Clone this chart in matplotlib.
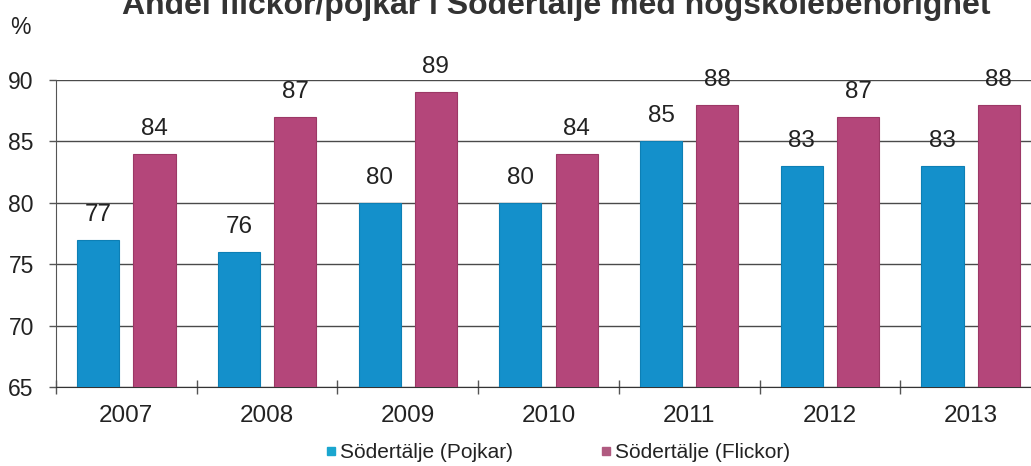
"""
Andel flickor/pojkar i Södertälje med högskolebehörighet
"""

import matplotlib.pyplot as plt
import numpy as np
from matplotlib.lines import Line2D

YEARS = ["2007", "2008", "2009", "2010", "2011", "2012", "2013"]
POJKAR = [77, 76, 80, 80, 85, 83, 83]
FLICKOR = [84, 87, 89, 84, 88, 87, 88]
Y_TICKS = [65, 70, 75, 80, 85, 90]

BLUE = "#1490cb"
PINK = "#b4467a"

plt.rcParams["font.family"] = ["Liberation Sans", "DejaVu Sans"]


def plot_bars() -> None:
    """
    Function to plot the grouped bar chart
    """

    fig = plt.figure(figsize=(10.31, 4.66), dpi=100)
    ax = fig.add_axes([56 / 1031, 1 - 387 / 466, 985 / 1031, 307 / 466])

    x = np.arange(len(YEARS))
    width = 0.3

    # bars
    bars_p = ax.bar(x - 0.2, POJKAR, width, color=BLUE, edgecolor="#0d7fb5",
                    linewidth=0.8, zorder=3)
    bars_f = ax.bar(x + 0.2, FLICKOR, width, color=PINK, edgecolor="#9c3866",
                    linewidth=0.8, zorder=3)

    # value labels
    for bars, vals in [(bars_p, POJKAR), (bars_f, FLICKOR)]:
        for bar, val in zip(bars, vals):
            ax.annotate(str(val), (bar.get_x() + bar.get_width() / 2, val),
                        xytext=(0, 18), textcoords="offset points",
                        ha="center", va="center", fontsize=17.5,
                        color="#222222", clip_on=False, zorder=4)

    ax.set_xlim(-0.5, len(YEARS) - 0.5)
    ax.set_ylim(65, 90)
    ax.set_yticks(Y_TICKS)
    ax.tick_params(axis="y", direction="out", length=5, width=1,
                   color="#555555", labelsize=16.5, labelcolor="#222222",
                   pad=11)

    # year labels at centers, tick marks at boundaries
    ax.set_xticks(x)
    ax.set_xticklabels(YEARS)
    ax.tick_params(axis="x", which="major", length=0, labelsize=17.5,
                   labelcolor="#222222", pad=13)
    ax.set_xticks(np.arange(len(YEARS) + 1) - 0.5, minor=True)
    ax.tick_params(axis="x", which="minor", direction="inout", length=10,
                   width=1, color="#555555")

    # gridlines
    ax.yaxis.grid(True, color="#4a4a4a", linewidth=1, zorder=0)
    ax.set_axisbelow(True)
    for side in ["top", "right"]:
        ax.spines[side].set_visible(False)
    ax.spines["left"].set_color("#555555")
    ax.spines["bottom"].set_color("#333333")

    # title (cut at the top edge, as in the source) and unit
    fig.text(556 / 1031, 1 - 14 / 466,
             "Andel flickor/pojkar i Södertälje med högskolebehörighet",
             ha="center", va="baseline", fontsize=23, fontweight="bold",
             color="#333333")
    fig.text(20 / 1031, 1 - 28 / 466, "%", ha="center", va="center",
             fontsize=16.5, color="#222222")

    # legend
    handles = [
        Line2D([], [], marker="s", linestyle="none", markersize=6,
               color="#1aa6cf", label="Södertälje (Pojkar)"),
        Line2D([], [], marker="s", linestyle="none", markersize=6,
               color="#b05a80", label="Södertälje (Flickor)"),
    ]
    fig.legend(handles=handles, loc="center", ncol=2,
               bbox_to_anchor=(558 / 1031, 1 - 453 / 466), frameon=False,
               fontsize=15, handlelength=0.5, handletextpad=0.2,
               columnspacing=4.2, labelcolor="#222222")

    fig.savefig("out.png", dpi=100)


if __name__ == "__main__":
    plot_bars()
